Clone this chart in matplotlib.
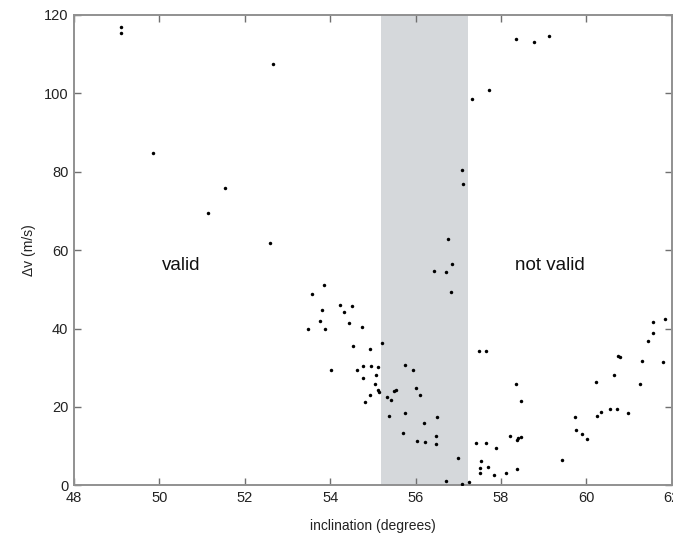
import numpy as np
import matplotlib
matplotlib.use("Agg")
import matplotlib.pyplot as plt

plt.rcParams['font.family'] = ['Liberation Sans', 'DejaVu Sans']

# inclination (deg) and delta-v (m/s) of each solution
incl = [
    49.09, 49.09, 49.86, 51.13, 51.53, 52.59, 52.67,
    53.57, 53.86, 53.80, 54.24, 54.51, 54.33, 53.76, 53.49, 53.87, 54.45,
    54.75, 54.53, 54.93, 55.22, 54.01, 54.63, 54.78, 54.95, 55.11, 54.76,
    55.07, 55.05, 55.13, 55.15, 54.93, 54.82, 55.32, 55.42, 55.49, 55.55,
    55.75, 55.93, 56.02, 56.11, 55.38, 55.75, 56.51, 56.19, 55.70, 56.03,
    56.23, 56.49, 56.49, 56.99, 56.71, 57.10, 57.25, 56.44, 56.71, 56.82,
    56.77, 56.85, 57.10, 57.12, 57.32, 57.73, 58.35, 58.78, 59.12,
    57.49, 57.66, 57.41, 57.66, 57.89, 57.54, 57.50, 57.69, 57.52, 57.84,
    58.13, 58.37, 58.35, 58.48, 58.21, 58.38, 58.41, 58.47, 59.44, 59.74,
    59.76, 59.90, 60.02, 60.22, 60.24, 60.35, 60.56, 60.73, 60.97, 60.65,
    60.74, 60.78, 61.25, 61.30, 61.44, 61.56, 61.56, 61.84, 61.80,
]
dv = [
    116.8, 115.5, 84.8, 69.5, 75.8, 61.7, 107.4,
    48.7, 51.2, 44.8, 46.1, 45.7, 44.3, 42.0, 40.0, 39.8, 41.3,
    40.3, 35.5, 34.7, 36.2, 29.4, 29.5, 30.4, 30.4, 30.1, 27.4,
    28.1, 25.8, 24.2, 23.9, 23.0, 21.3, 22.4, 21.8, 24.1, 24.2,
    30.6, 29.3, 24.7, 23.1, 17.8, 18.4, 17.4, 16.0, 13.3, 11.2,
    11.0, 12.6, 10.5, 7.0, 1.0, 0.3, 0.8, 54.7, 54.4, 49.4,
    62.9, 56.5, 80.4, 76.8, 98.6, 100.8, 113.8, 113.0, 114.5,
    34.3, 34.3, 10.9, 10.9, 9.4, 6.2, 4.5, 4.7, 3.1, 2.5,
    3.1, 4.1, 25.8, 21.5, 12.7, 11.6, 12.0, 12.4, 6.4, 17.4,
    14.2, 13.1, 11.7, 26.3, 17.7, 18.7, 19.4, 19.5, 18.5, 28.2,
    33.1, 32.8, 25.9, 31.6, 36.7, 38.8, 41.6, 42.3, 31.4,
]

band = (55.18, 57.24)   # excluded inclination band
xticks = [48, 50, 52, 54, 56, 58, 60, 62]
yticks = [0, 20, 40, 60, 80, 100, 120]

fig = plt.figure(figsize=(6.73, 5.33), dpi=100)
ax = fig.add_axes([0.110, 0.0895, 0.888, 0.8825])

ax.axvspan(band[0], band[1], color='#d5d8db', lw=0, zorder=0)
ax.plot(incl, dv, 'o', color='black', ms=2.5, mew=0, zorder=3)

ax.set_xlim(48, 62)
ax.set_ylim(0, 120)
ax.set_xticks(xticks)
ax.set_yticks(yticks)
ax.tick_params(direction='in', top=True, right=True, length=5, width=1,
               color='#707070', labelsize=10.5, labelcolor='#222222', pad=4)
for s in ax.spines.values():
    s.set_color('#909090')
    s.set_linewidth(1.4)

ax.set_xlabel('inclination (degrees)', fontsize=10, color='#222222', labelpad=10)
ax.set_ylabel('\u0394v (m/s)', fontsize=10, color='#222222', labelpad=6)

ax.text(50.05, 56, 'valid', fontsize=13.5, va='center', ha='left', color='#111111')
ax.text(58.34, 56, 'not valid', fontsize=13.5, va='center', ha='left', color='#111111')

fig.savefig('out.png', dpi=100)
